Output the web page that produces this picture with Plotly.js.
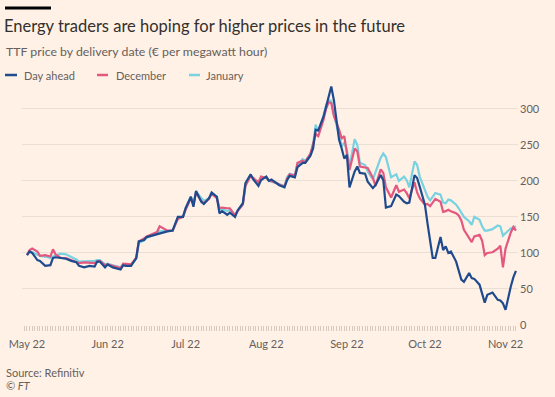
<!DOCTYPE html>
<html>
<head>
<meta charset="utf-8">
<script src="https://cdn.plot.ly/plotly-3.0.1.min.js"></script>
<style>
html,body{margin:0;padding:0;background:#fff1e5;}
#chart{width:555px;height:397px;}
</style>
</head>
<body>
<div id="chart"></div>
<script>
const dates = [
"2022-05-01","2022-05-02","2022-05-03","2022-05-05","2022-05-06","2022-05-08","2022-05-10","2022-05-11","2022-05-12","2022-05-14",
"2022-05-16","2022-05-18","2022-05-20","2022-05-21","2022-05-23","2022-05-25","2022-05-27","2022-05-28","2022-05-29","2022-05-31",
"2022-06-01","2022-06-03","2022-06-04","2022-06-06","2022-06-07","2022-06-08","2022-06-10","2022-06-12","2022-06-13","2022-06-15",
"2022-06-16","2022-06-18","2022-06-20","2022-06-21","2022-06-24","2022-06-26","2022-06-27","2022-06-28","2022-06-30","2022-07-01",
"2022-07-03","2022-07-04","2022-07-05","2022-07-07","2022-07-08","2022-07-10","2022-07-11","2022-07-13","2022-07-14","2022-07-15",
"2022-07-17","2022-07-18","2022-07-20","2022-07-21","2022-07-23","2022-07-24","2022-07-26","2022-07-27","2022-07-29","2022-07-30",
"2022-08-01","2022-08-02","2022-08-03","2022-08-05","2022-08-06","2022-08-08","2022-08-09","2022-08-10","2022-08-12","2022-08-13",
"2022-08-15","2022-08-16","2022-08-18","2022-08-19","2022-08-20","2022-08-21","2022-08-23","2022-08-24","2022-08-25","2022-08-26",
"2022-08-27","2022-08-29","2022-08-30","2022-08-31","2022-09-01","2022-09-02","2022-09-04","2022-09-05","2022-09-06","2022-09-08",
"2022-09-09","2022-09-11","2022-09-12","2022-09-14","2022-09-15","2022-09-16","2022-09-18","2022-09-20","2022-09-21","2022-09-23",
"2022-09-24","2022-09-25","2022-09-27","2022-09-28","2022-09-29","2022-10-01","2022-10-02","2022-10-03","2022-10-04","2022-10-05",
"2022-10-07","2022-10-08","2022-10-09","2022-10-10","2022-10-11","2022-10-13","2022-10-14","2022-10-15","2022-10-16","2022-10-18",
"2022-10-19","2022-10-20","2022-10-22","2022-10-23","2022-10-24","2022-10-25","2022-10-27","2022-10-29","2022-10-30","2022-10-31",
"2022-11-01","2022-11-03","2022-11-04","2022-11-05"
];
const dayAhead = [
97,102,100,90,89,82,83,93,94,93,
92,89,87,82,80,82,81,88,88,80,
84,80,79,77,83,82,82,93,116,118,
122,124,127,128,130,131,141,150,150,162,
178,164,186,171,168,176,184,178,155,158,
153,156,150,159,169,197,209,202,193,201,
206,200,202,197,194,191,201,207,205,219,
225,225,235,245,271,270,289,303,317,331,
312,257,245,231,236,191,213,220,211,210,
199,190,194,208,201,163,165,181,179,171,
169,170,208,204,192,167,141,118,93,93,
122,104,109,100,102,88,74,63,60,72,
65,64,56,43,31,42,45,35,34,30,
21,53,66,75
];
const december = [
97,104,106,102,96,97,95,105,98,93,
93,90,88,86,87,87,86,88,89,83,
84,82,81,79,85,85,84,93,116,120,
123,126,129,137,131,131,139,147,150,160,
176,167,184,172,169,175,182,176,162,163,
162,162,152,158,167,193,207,204,198,206,
204,201,200,197,195,192,203,209,207,225,
228,226,238,250,265,262,285,300,309,308,
290,271,259,262,241,215,245,241,220,218,
218,204,193,216,211,191,177,194,185,188,
183,176,198,184,176,167,168,165,170,175,
171,157,158,160,158,155,152,145,132,121,
115,123,125,117,97,100,101,106,110,80,
106,128,136,131
];
const january = [
97,102,101,98,96,95,93,95,96,99,
98,95,91,88,88,89,89,90,90,84,
85,83,82,80,84,84,83,92,114,117,
121,124,127,130,130,131,140,148,151,162,
178,170,185,176,172,176,183,178,160,161,
158,160,153,159,168,195,208,203,196,203,
205,200,199,196,195,193,205,210,208,222,
230,228,237,250,278,268,290,305,312,311,
292,264,248,253,243,220,258,250,225,222,
213,202,213,232,238,233,205,209,200,206,
201,191,227,222,206,188,178,173,178,183,
181,170,169,174,173,167,162,156,150,144,
139,150,146,137,131,131,133,138,137,124,
127,134,135,137
];
const seriesNames = ["Day ahead","December","January"];
const seriesColors = ["#1f4b8e","#e2587f","#78d2e2"];

const L = 22, R = 518, T = 80, B = 325, W = 555, H = 397;
const px = x => (x - L) / (R - L);
const py = y => (B - y) / (B - T);

const FONT = "Lato, 'Open Sans', sans-serif";
const GREY = "#66605c";

const traces = [
  {x: dates, y: january, name: seriesNames[2], type: "scatter", mode: "lines", line: {color: seriesColors[2], width: 2.2}, showlegend: false},
  {x: dates, y: december, name: seriesNames[1], type: "scatter", mode: "lines", line: {color: seriesColors[1], width: 2.2}, showlegend: false},
  {x: dates, y: dayAhead, name: seriesNames[0], type: "scatter", mode: "lines", line: {color: seriesColors[0], width: 2.2}, showlegend: false}
];

const legendSym = [[5,17],[97,108],[189,200]];
const legendTxt = [22, 114, 204];
const legendY = 75;

const shapes = [
  {type: "rect", xref: "paper", yref: "paper", x0: px(5), x1: px(51), y0: py(9.5), y1: py(6.5), fillcolor: "#000", line: {width: 0}}
];
const annotations = [
  {text: "TTF price by delivery date (€ per megawatt hour)", xref: "paper", yref: "paper", x: px(4), y: py(51.5), xanchor: "left", yanchor: "middle", showarrow: false, font: {family: FONT, size: 12.3, color: GREY}},
  {text: "Source: Refinitiv", xref: "paper", yref: "paper", x: px(4), y: py(372), xanchor: "left", yanchor: "middle", showarrow: false, font: {family: FONT, size: 11, color: GREY}},
  {text: "<i>© FT</i>", xref: "paper", yref: "paper", x: px(4), y: py(386), xanchor: "left", yanchor: "middle", showarrow: false, font: {family: FONT, size: 11, color: GREY}}
];
for (let i = 0; i < 3; i++) {
  shapes.push({type: "line", xref: "paper", yref: "paper", x0: px(legendSym[i][0]), x1: px(legendSym[i][1]), y0: py(legendY), y1: py(legendY), line: {color: seriesColors[i], width: 2.5}});
  annotations.push({text: seriesNames[i], xref: "paper", yref: "paper", x: px(legendTxt[i]), y: py(legendY), xanchor: "left", yanchor: "middle", showarrow: false, font: {family: FONT, size: 11, color: GREY}});
}

const layout = {
  width: W, height: H,
  paper_bgcolor: "#fff1e5", plot_bgcolor: "#fff1e5",
  margin: {l: L, r: W - R, t: T, b: H - B, pad: 0},
  title: {text: "Energy traders are hoping for higher prices in the future", x: 4 / W, xref: "container", xanchor: "left", y: 1 - 26 / H, yref: "container", yanchor: "middle", font: {family: FONT, size: 16.5, color: "#33302e"}},
  xaxis: {
    type: "date", range: ["2022-04-29 02:00", "2022-11-05 19:00"],
    tick0: "2022-05-01", dtick: "M1", tickformat: "%b %y",
    ticks: "outside", ticklen: 5, tickcolor: "#d6c9bd", tickwidth: 1,
    minor: {dtick: 86400000, ticks: "outside", ticklen: 5, tickcolor: "#d6c9bd", tickwidth: 1, showgrid: false},
    showgrid: false, zeroline: false, showline: false,
    tickfont: {family: FONT, size: 11, color: GREY}, ticklabelstandoff: 4, fixedrange: true
  },
  yaxis: {
    side: "right", range: [0, 340], tickvals: [0, 50, 100, 150, 200, 250, 300],
    showgrid: true, gridcolor: "#eadfd5", gridwidth: 1, zeroline: false, ticks: "", showline: false,
    tickfont: {family: FONT, size: 11, color: GREY}, ticklabelstandoff: 1, fixedrange: true
  },
  shapes: shapes,
  annotations: annotations,
  hovermode: false
};

Plotly.newPlot("chart", traces, layout, {displayModeBar: false, staticPlot: true});
</script>
</body>
</html>
